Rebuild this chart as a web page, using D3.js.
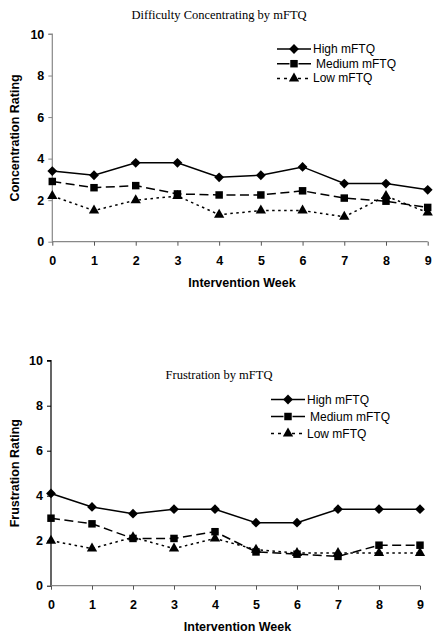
<!DOCTYPE html>
<html>
<head>
<meta charset="utf-8">
<script src="https://cdn.jsdelivr.net/npm/d3@7"></script>
<style>
  html, body { margin: 0; padding: 0; background: #fff; }
  svg { display: block; }
</style>
</head>
<body>
<svg id="chart" width="439" height="636"></svg>
<script>
// ---- Data ----
const weeks = [0, 1, 2, 3, 4, 5, 6, 7, 8, 9];
const seriesNames = ["High mFTQ", "Medium mFTQ", "Low mFTQ"];
const yTicks = [0, 2, 4, 6, 8, 10];

// Chart 1: Difficulty Concentrating
const concHigh = [3.4, 3.2, 3.8, 3.8, 3.1, 3.2, 3.6, 2.8, 2.8, 2.5];
const concMedium = [2.9, 2.6, 2.7, 2.3, 2.25, 2.25, 2.45, 2.1, 1.95, 1.65];
const concLow = [2.2, 1.5, 2.0, 2.2, 1.3, 1.5, 1.5, 1.2, 2.2, 1.4];

// Chart 2: Frustration
const frusHigh = [4.1, 3.5, 3.2, 3.4, 3.4, 2.8, 2.8, 3.4, 3.4, 3.4];
const frusMedium = [3.0, 2.75, 2.1, 2.1, 2.4, 1.5, 1.4, 1.3, 1.8, 1.8];
const frusLow = [2.0, 1.65, 2.15, 1.65, 2.1, 1.6, 1.45, 1.45, 1.45, 1.45];

// ---- Drawing ----
const svg = d3.select("#chart");

// rotated-square diamond (equal width and height)
const symbolRhombus = {
  draw(context, size) {
    const r = Math.sqrt(size / 2);
    context.moveTo(0, -r);
    context.lineTo(r, 0);
    context.lineTo(0, r);
    context.lineTo(-r, 0);
    context.closePath();
  }
};

const styles = [
  { dash: null, marker: symbolRhombus, size: 48 },
  { dash: "9,4.5", marker: d3.symbolSquare, size: 56 },
  { dash: "2.5,3.5", marker: d3.symbolTriangle, size: 46 }
];

function drawChart(cfg) {
  const g = svg.append("g");
  const x = d3.scaleLinear().domain([0, 9]).range([cfg.x0, cfg.x1]);
  const y = d3.scaleLinear().domain([0, 10]).range([cfg.y0, cfg.y1]);

  // title
  g.append("text")
    .attr("x", cfg.titleX).attr("y", cfg.titleY)
    .attr("text-anchor", "middle")
    .style("font-family", "'Liberation Serif', 'Times New Roman', serif")
    .style("font-size", "12.5px")
    .text(cfg.title);

  // y axis
  const yAxis = g.append("g")
    .attr("transform", `translate(${cfg.x0},0)`)
    .call(d3.axisLeft(y).tickValues(yTicks).tickSize(4).tickPadding(4));
  yAxis.select(".domain").attr("stroke", cfg.yAxisColor).attr("stroke-width", 1.2)
    .attr("d", `M-4,${y(10)}H0V${y(0)}`);
  yAxis.selectAll(".tick line").attr("stroke", cfg.yAxisColor);
  yAxis.selectAll(".tick text")
    .style("font-family", "Arial, 'Liberation Sans', sans-serif")
    .style("font-size", "12.5px").style("font-weight", "bold").attr("fill", "#000");

  // x axis
  const xAxis = g.append("g")
    .attr("transform", `translate(0,${cfg.y0})`)
    .call(d3.axisBottom(x).tickValues(weeks).tickSize(4).tickPadding(10).tickFormat(d3.format("d")));
  xAxis.select(".domain").attr("stroke", "#888").attr("stroke-width", 1.2)
    .attr("d", `M${x(0)},0H${x(9)}`);
  xAxis.selectAll(".tick line").attr("stroke", "#555");
  xAxis.selectAll(".tick text")
    .style("font-family", "Arial, 'Liberation Sans', sans-serif")
    .style("font-size", "12.5px").style("font-weight", "bold").attr("fill", "#000");

  // axis titles
  g.append("text")
    .attr("x", (cfg.x0 + cfg.x1) / 2 + 2).attr("y", cfg.xTitleY)
    .attr("text-anchor", "middle")
    .style("font-family", "Arial, 'Liberation Sans', sans-serif")
    .style("font-size", "12.5px").style("font-weight", "bold")
    .text("Intervention Week");
  g.append("text")
    .attr("transform", `translate(${cfg.yTitleX},${(cfg.y0 + cfg.y1) / 2}) rotate(-90)`)
    .attr("text-anchor", "middle")
    .style("font-family", "Arial, 'Liberation Sans', sans-serif")
    .style("font-size", "12.5px").style("font-weight", "bold")
    .text(cfg.yTitle);

  // series
  const line = d3.line().x((d, i) => x(weeks[i])).y(d => y(d));
  cfg.series.forEach((vals, si) => {
    const st = styles[si];
    g.append("path")
      .datum(vals)
      .attr("d", line)
      .attr("fill", "none")
      .attr("stroke", "#000")
      .attr("stroke-width", 1.5)
      .attr("stroke-dasharray", st.dash);
  });
  cfg.series.forEach((vals, si) => {
    const st = styles[si];
    g.selectAll(null).data(vals).enter().append("path")
      .attr("transform", (d, i) => `translate(${x(weeks[i])},${y(d)})`)
      .attr("d", d3.symbol().type(st.marker).size(st.size))
      .attr("fill", "#000");
  });

  // legend
  seriesNames.forEach((name, si) => {
    const st = styles[si];
    const ly = cfg.legY + si * cfg.legStep;
    g.append("line")
      .attr("x1", cfg.legX).attr("x2", cfg.legX + 34)
      .attr("y1", ly).attr("y2", ly)
      .attr("stroke", "#000").attr("stroke-width", 1.5)
      .attr("stroke-dasharray", si === 2 ? "3,4" : (si === 1 ? "12.5,9,12.5" : null));
    g.append("path")
      .attr("transform", `translate(${cfg.legX + 17},${ly})`)
      .attr("d", d3.symbol().type(st.marker).size(st.size))
      .attr("fill", "#000");
    g.append("text")
      .attr("x", cfg.legX + 36 + (si === 1 ? 3 : 0)).attr("y", ly + 4)
      .style("font-family", "Arial, 'Liberation Sans', sans-serif")
      .style("font-size", "12px")
      .text(name);
  });
}

drawChart({
  title: "Difficulty Concentrating by mFTQ", titleX: 219, titleY: 19,
  yTitle: "Concentration Rating", yTitleX: 19,
  x0: 52.3, x1: 427.7, y0: 241.7, y1: 34,
  xTitleY: 287, yAxisColor: "#888",
  series: [concHigh, concMedium, concLow],
  legX: 277, legY: 49, legStep: 14.7
});

drawChart({
  title: "Frustration by mFTQ", titleX: 219, titleY: 379,
  yTitle: "Frustration Rating", yTitleX: 19,
  x0: 51, x1: 420, y0: 585.7, y1: 360.7,
  xTitleY: 631, yAxisColor: "#000",
  series: [frusHigh, frusMedium, frusLow],
  legX: 271, legY: 399.5, legStep: 17
});
</script>
</body>
</html>
